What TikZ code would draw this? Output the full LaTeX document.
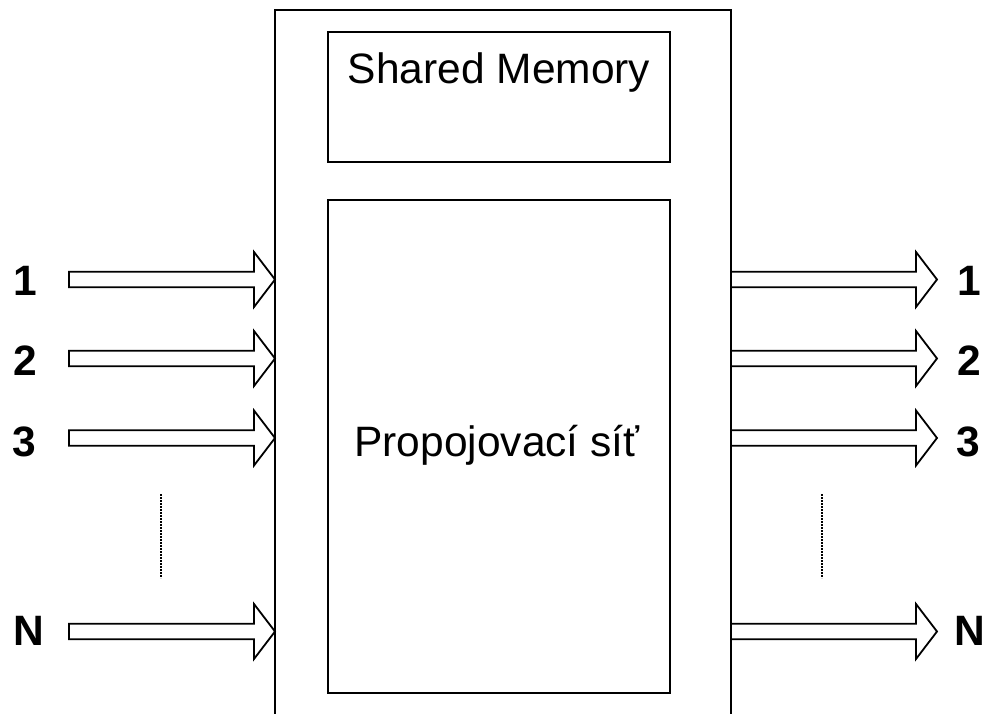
\documentclass[tikz,border=0pt]{standalone}
\usepackage{fontspec}
\setmainfont{Liberation Sans}
\usetikzlibrary{calc}
\tikzset{
  frame/.style={draw=black,line width=2pt},
  box/.style={draw=black,line width=1.6pt},
  barrow/.style={draw=black,line width=1.8pt,fill=white,line join=miter},
  numlbl/.style={font=\fontsize{42.5}{42}\selectfont\bfseries,inner sep=0pt,anchor=base},
  boxtext/.style={font=\fontsize{42.5}{42}\selectfont,inner sep=0pt,anchor=base},
  vdots/.style={draw=black,line width=2pt,dash pattern=on 1.6pt off 1.4pt}
}
\newcommand{\inarrow}[2]{%
  \draw[barrow] ($(#1)+(0,-7.8)$) -- ($(#2)+(-21,-7.8)$) -- ($(#2)+(-21,-27.5)$) -- (#2)
    -- ($(#2)+(-21,27.5)$) -- ($(#2)+(-21,7.8)$) -- ($(#1)+(0,7.8)$) -- cycle;}
\begin{document}
\begin{tikzpicture}[x=1pt,y=-1pt]
\useasboundingbox (0,0) rectangle (986,714);
% outer frame (open at bottom)
\draw[frame] (275,716) -- (275,10) -- (731,10) -- (731,716);
% inner boxes
\draw[box] (328,32) rectangle (670,162);
\node[boxtext] (shm) at (499,83.5) {Shared Memory};
\draw[box] (328,200) rectangle (670,693);
\node[boxtext] (net) at (497,456) {Propojovací síť};
% arrows
\foreach \n/\y in {1/279.5,2/358.5,3/438,4/631.5}{
  \coordinate (in\n s) at (69,\y);
  \coordinate (in\n e) at (275,\y);
  \coordinate (out\n s) at (731,\y);
  \coordinate (out\n e) at (937,\y);
  \inarrow{in\n s}{in\n e}
  \inarrow{out\n s}{out\n e}
}
\node[numlbl] (l1) at (25,296) {1};
\node[numlbl] (l2) at (25,375.5) {2};
\node[numlbl] (l3) at (24,456) {3};
\node[numlbl] (l4) at (29,645) {N};
\node[numlbl] (r1) at (969,296) {1};
\node[numlbl] (r2) at (969,375.5) {2};
\node[numlbl] (r3) at (968,456) {3};
\node[numlbl] (r4) at (970,645) {N};
% dotted continuation
\coordinate (dl1) at (161,494);
\coordinate (dl2) at (161,578);
\coordinate (dr1) at (822,494);
\coordinate (dr2) at (822,578);
\draw[vdots] (dl1) -- (dl2);
\draw[vdots] (dr1) -- (dr2);
\end{tikzpicture}
\end{document}
